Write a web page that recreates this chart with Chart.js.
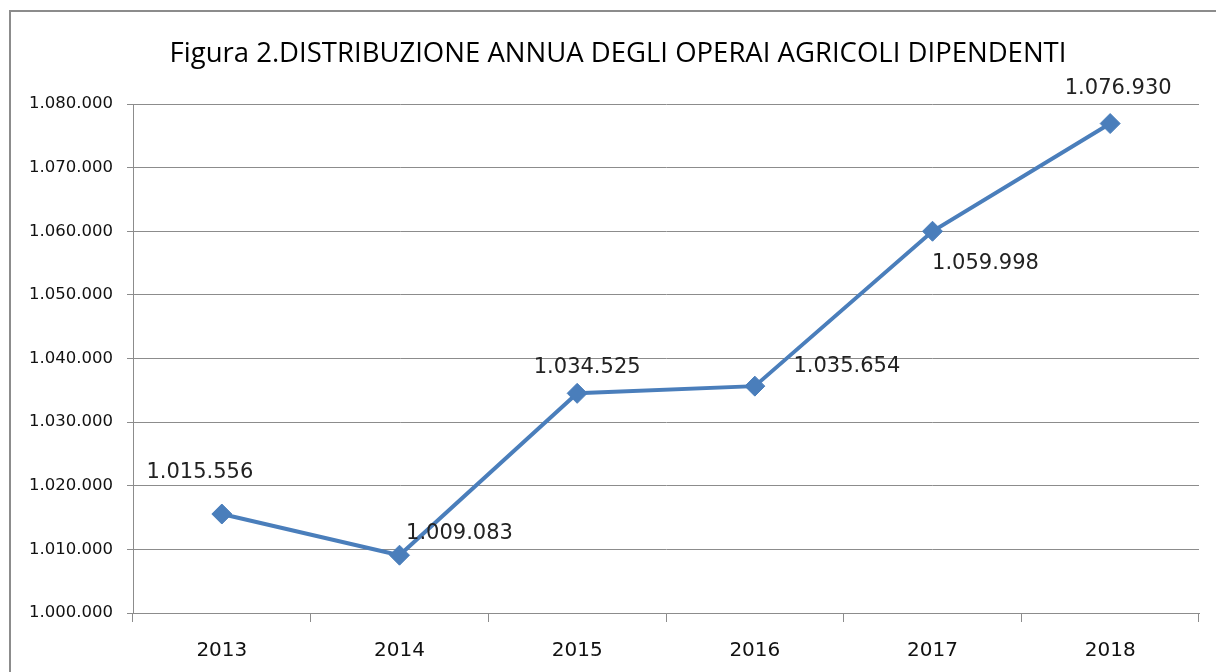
<!DOCTYPE html>
<html>
<head>
<meta charset="utf-8">
<script src="https://cdn.jsdelivr.net/npm/chart.js@4.4.1/dist/chart.umd.min.js"></script>
<style>
  html, body { margin: 0; padding: 0; background: #fff; }
  #wrap { position: relative; width: 1216px; height: 672px; overflow: hidden; }
  #frame {
    position: absolute; left: 9px; top: 10px; width: 1300px; height: 800px;
    border-left: 2px solid #8c8c8c; border-top: 2px solid #8c8c8c;
  }
  canvas { position: absolute; left: 0; top: 0; }
</style>
</head>
<body>
<div id="wrap">
  <div id="frame"></div>
  <canvas id="chart" width="1216" height="672"></canvas>
</div>
<script>
const years = ['2013', '2014', '2015', '2016', '2017', '2018'];
const workers = [1015556, 1009083, 1034525, 1035654, 1059998, 1076930];
const yMin = 1000000;
const yMax = 1080000;
const yStep = 10000;
const titleText = 'Figura 2.DISTRIBUZIONE ANNUA DEGLI OPERAI AGRICOLI DIPENDENTI';

// pixel offsets of each data label from its point (Excel placed them by hand)
const labelDx = [-22, 60, 10, 92, 53, 8];
const labelDy = [-41, -22, -26, -20, 32, -35];

const fmt = (v) => v.toString().replace(/\B(?=(\d{3})+(?!\d))/g, '.');

// title is drawn by hand: in the original it is not centred on the plot
const chartTitle = {
  id: 'chartTitle',
  afterDraw(chart) {
    const ctx = chart.ctx;
    ctx.save();
    ctx.font = '27.5px "Open Sans"';
    ctx.fillStyle = '#000';
    ctx.textAlign = 'center';
    ctx.textBaseline = 'alphabetic';
    ctx.fillText(titleText, 618, 62);
    ctx.restore();
  }
};

const pointLabels = {
  id: 'pointLabels',
  afterDatasetsDraw(chart) {
    const ctx = chart.ctx;
    const meta = chart.getDatasetMeta(0);
    ctx.save();
    ctx.font = '21px "DejaVu Sans"';
    ctx.fillStyle = '#222';
    ctx.textAlign = 'center';
    ctx.textBaseline = 'middle';
    meta.data.forEach((pt, i) => {
      ctx.fillText(fmt(workers[i]), pt.x + labelDx[i], pt.y + labelDy[i]);
    });
    ctx.restore();
  }
};

new Chart(document.getElementById('chart'), {
  type: 'line',
  data: {
    labels: years,
    datasets: [{
      data: workers,
      borderColor: '#4a7ebb',
      backgroundColor: '#4a7ebb',
      borderWidth: 4,
      tension: 0,
      pointStyle: 'rectRot',
      pointRadius: 10,
      pointBorderWidth: 1,
      pointBorderColor: '#4a7ebb',
      pointBackgroundColor: '#4a7ebb'
    }]
  },
  options: {
    responsive: false,
    animation: false,
    layout: { padding: { left: 10, top: 104, right: 17, bottom: 0 } },
    plugins: {
      legend: { display: false },
      tooltip: { enabled: false },
      title: { display: false }
    },
    scales: {
      x: {
        offset: true,
        grid: { offset: true, drawOnChartArea: false, color: '#8c8c8c', tickLength: 9 },
        border: { color: '#8c8c8c' },
        ticks: { color: '#111', padding: 17, font: { family: 'DejaVu Sans', size: 20 } },
        afterFit: (s) => { s.height = 59; }
      },
      y: {
        min: yMin,
        max: yMax,
        grid: { color: '#8c8c8c', tickLength: 6 },
        border: { color: '#8c8c8c' },
        ticks: {
          stepSize: yStep,
          color: '#111',
          padding: 14,
          font: { family: 'DejaVu Sans', size: 16.5 },
          callback: (v) => fmt(v)
        },
        afterFit: (s) => { s.width = 123; }
      }
    }
  },
  plugins: [pointLabels, chartTitle]
});
</script>
</body>
</html>
